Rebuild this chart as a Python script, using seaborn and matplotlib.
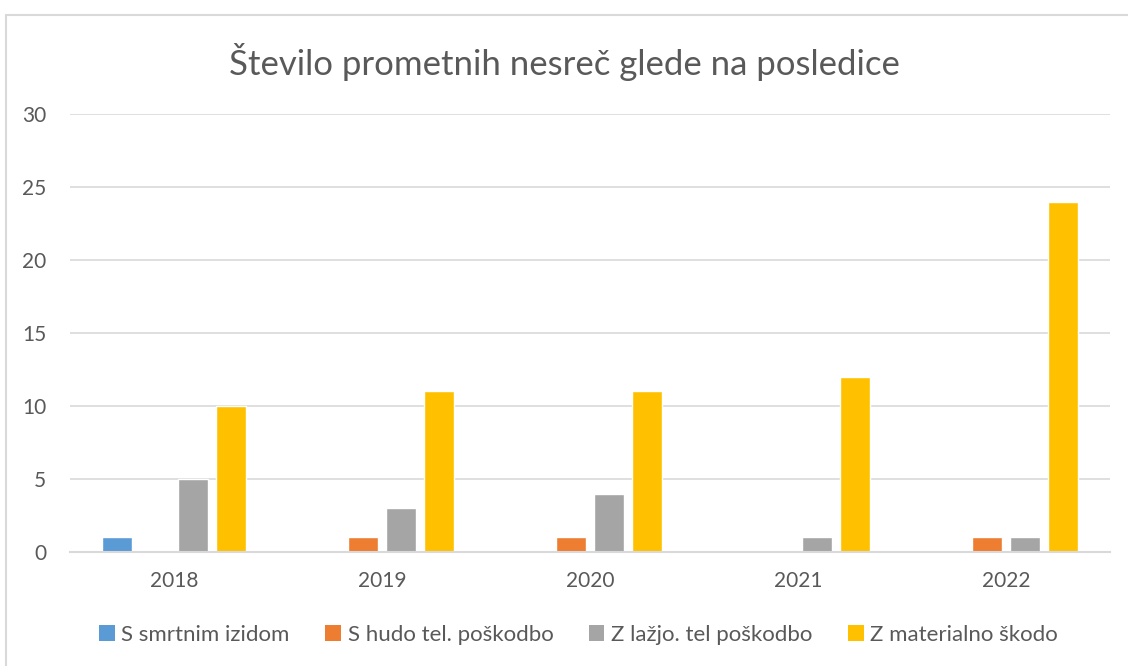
import pandas as pd
import matplotlib.pyplot as plt
import seaborn as sns
from matplotlib.patches import Rectangle, Patch

# Podatki
leta = ["2018", "2019", "2020", "2021", "2022"]
posledice = ["S smrtnim izidom", "S hudo tel. poškodbo", "Z lažjo. tel poškodbo", "Z materialno škodo"]
smrtni = [1, 0, 0, 0, 0]
hude = [0, 1, 1, 0, 1]
lazje = [5, 3, 4, 1, 1]
materialne = [10, 11, 11, 12, 24]
barve = ["#5B9BD5", "#ED7D31", "#A5A5A5", "#FFC000"]

rows = []
for serija, vrednosti in zip(posledice, [smrtni, hude, lazje, materialne]):
    for leto, v in zip(leta, vrednosti):
        rows.append({"Leto": leto, "Posledica": serija, "Število": v})
df = pd.DataFrame(rows)

sns.set_style("white")
plt.rcParams['font.family'] = ['Lato', 'DejaVu Sans']

fig = plt.figure(figsize=(11.28, 6.66), dpi=100)
ax = fig.add_axes([70 / 1128, 1 - 552 / 666, (1110 - 70) / 1128, (552 - 114) / 666])

sns.barplot(data=df, x="Leto", y="Število", hue="Posledica", order=leta,
            hue_order=posledice, palette=barve, width=0.73, gap=0.2,
            saturation=1, ax=ax, legend=False)

ax.set_ylim(0, 30)
ax.set_yticks(range(0, 31, 5))
ax.yaxis.grid(True, color="#D9D9D9", linewidth=1.2)
ax.set_axisbelow(True)
for s in ["top", "right", "left"]:
    ax.spines[s].set_visible(False)
ax.spines["bottom"].set_color("#D9D9D9")
ax.spines["bottom"].set_linewidth(1.5)
ax.tick_params(axis="both", length=0, labelsize=15, colors="#595959")
ax.tick_params(axis="y", pad=17)
ax.tick_params(axis="x", pad=14)
ax.set_xlabel("")
ax.set_ylabel("")

fig.text(0.5, 1 - 62 / 666, "Število prometnih nesreč glede na posledice",
         ha="center", va="center", fontsize=25, color="#595959")

handles = [Patch(facecolor=c, edgecolor="none") for c in barve]
fig.legend(handles, posledice, loc="center", bbox_to_anchor=(0.513, 1 - 635 / 666),
           ncol=4, frameon=False, fontsize=16, labelcolor="#595959",
           handlelength=0.7, handleheight=0.7, handletextpad=0.3, columnspacing=1.6)

fig.patches.append(Rectangle((6 / 1128, -0.01), 1.02, 1 - 15 / 666 + 0.01,
                             transform=fig.transFigure, fill=False,
                             edgecolor="#D9D9D9", linewidth=1.5))

fig.savefig("out.png", dpi=100)
